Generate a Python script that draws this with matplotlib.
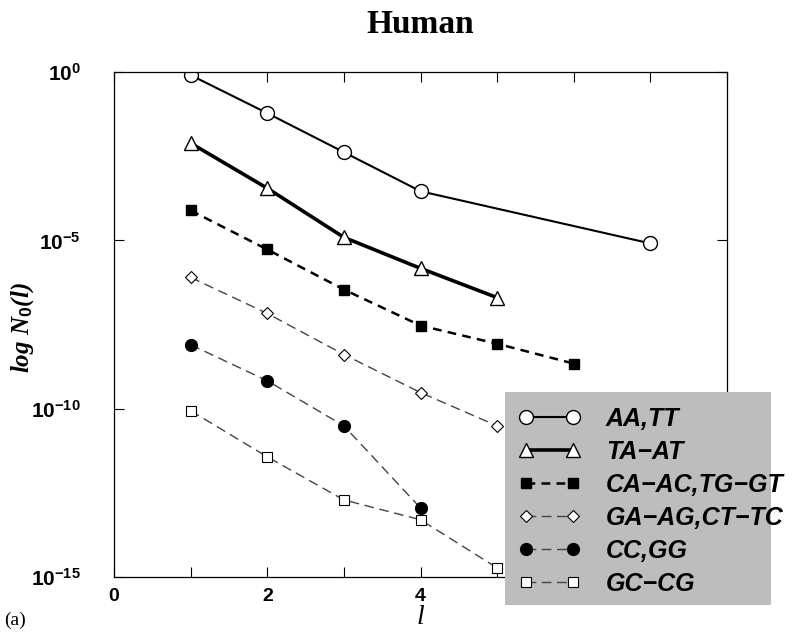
import numpy as np
import matplotlib
matplotlib.use("Agg")
import matplotlib.pyplot as plt
from matplotlib.patches import Rectangle

plt.rcParams['mathtext.fontset'] = 'custom'
plt.rcParams['mathtext.bf'] = 'Liberation Sans:bold'
plt.rcParams['mathtext.rm'] = 'Liberation Sans:bold'
plt.rcParams['mathtext.it'] = 'Liberation Serif:bold:italic'

# data: log10 N0(l)
l_aa = [1, 2, 3, 4, 7]
y_aa = [-0.09, -1.22, -2.38, -3.54, -5.09]
l_ta = [1, 2, 3, 4, 5]
y_ta = [-2.11, -3.45, -4.91, -5.83, -6.70]
l_ca = [1, 2, 3, 4, 5, 6]
y_ca = [-4.11, -5.27, -6.46, -7.53, -8.07, -8.66]
l_ga = [1, 2, 3, 4, 5]
y_ga = [-6.10, -7.17, -8.39, -9.52, -10.51]
l_cc = [1, 2, 3, 4]
y_cc = [-8.10, -9.17, -10.51, -12.95]
l_gc = [1, 2, 3, 4, 5]
y_gc = [-10.06, -11.43, -12.71, -13.30, -14.73]

labels = ['AA,TT', 'TA\u2212AT', 'CA\u2212AC,TG\u2212GT', 'GA\u2212AG,CT\u2212TC',
          'CC,GG', 'GC\u2212CG']
yticks = [0, -5, -10, -15]

fig = plt.figure(figsize=(8, 6.38), dpi=100)
ax = fig.add_axes([0.1425, 0.0956, 0.7663, 0.7914])

longdash = (0, (7, 4))
ax.plot(l_aa, 10.0 ** np.array(y_aa), color='k', lw=1.5, marker='o', ms=10,
        mfc='white', mec='k', mew=1.0, label=labels[0])
ax.plot(l_ta, 10.0 ** np.array(y_ta), color='k', lw=2.6, marker='^', ms=10,
        mfc='white', mec='k', mew=1.0, label=labels[1])
ax.plot(l_ca, 10.0 ** np.array(y_ca), color='k', lw=1.8, ls=(0, (3.5, 2.5)),
        marker='s', ms=6.5, mfc='k', mec='k', label=labels[2])
ax.plot(l_ga, 10.0 ** np.array(y_ga), color='#444444', lw=1.0, ls=longdash,
        marker='D', ms=6, mfc='white', mec='k', mew=0.8, label=labels[3])
ax.plot(l_cc, 10.0 ** np.array(y_cc), color='#444444', lw=1.0, ls=longdash,
        marker='o', ms=8.5, mfc='k', mec='k', label=labels[4])
ax.plot(l_gc, 10.0 ** np.array(y_gc), color='#444444', lw=1.0, ls=longdash,
        marker='s', ms=7.5, mfc='white', mec='k', mew=0.8, label=labels[5])

ax.set_yscale('log')
ax.set_xlim(0, 8)
ax.set_ylim(1e-15, 1e0)
ax.set_yticks([10.0 ** t for t in yticks])
ax.set_yticklabels([r'$\mathbf{10^{%d}}$' % t for t in yticks])
ax.yaxis.set_minor_locator(matplotlib.ticker.NullLocator())
ax.set_xticks(np.arange(0, 9, 2))
ax.set_xticks(np.arange(1, 9, 2), minor=True)
ax.tick_params(which='both', direction='in', top=True, right=True, length=7,
               width=0.8)
ax.tick_params(axis='x', labelsize=14, pad=8)
ax.tick_params(axis='y', labelsize=15, pad=24)
for t in ax.get_xticklabels():
    t.set_fontfamily('Liberation Sans')
    t.set_fontweight('bold')
for s in ax.spines.values():
    s.set_linewidth(0.9)

ax.set_title('Human', fontfamily='Liberation Serif', fontweight='bold',
             fontsize=24, pad=28)
ax.set_xlabel('l', fontfamily='Liberation Serif', style='italic', fontsize=20,
              labelpad=0)
ax.set_ylabel('log N$_0$(l)', fontfamily='Liberation Serif', style='italic',
              fontweight='bold', fontsize=18)
ax.yaxis.set_label_coords(-0.128, 0.493)
fig.text(0.005, 0.02, '(a)', fontfamily='Liberation Serif', fontsize=14)

# grey legend panel, drawn over the axes and past its edges
fig.patches.append(Rectangle((0.631, 0.0517), 0.3325, 0.334,
                             transform=fig.transFigure, facecolor='#bdbdbd',
                             edgecolor='none', zorder=5))
handles, names = ax.get_legend_handles_labels()
leg = fig.legend(handles, names, loc='upper left', bbox_to_anchor=(0.648, 0.362),
                 frameon=False, numpoints=2,
                 handlelength=2.5, labelspacing=0.36, handletextpad=1.0,
                 borderpad=0, borderaxespad=0,
                 prop={'family': 'Liberation Sans', 'weight': 'bold',
                       'style': 'italic', 'size': 18})
leg.set_zorder(10)

fig.savefig('out.png', dpi=100)
